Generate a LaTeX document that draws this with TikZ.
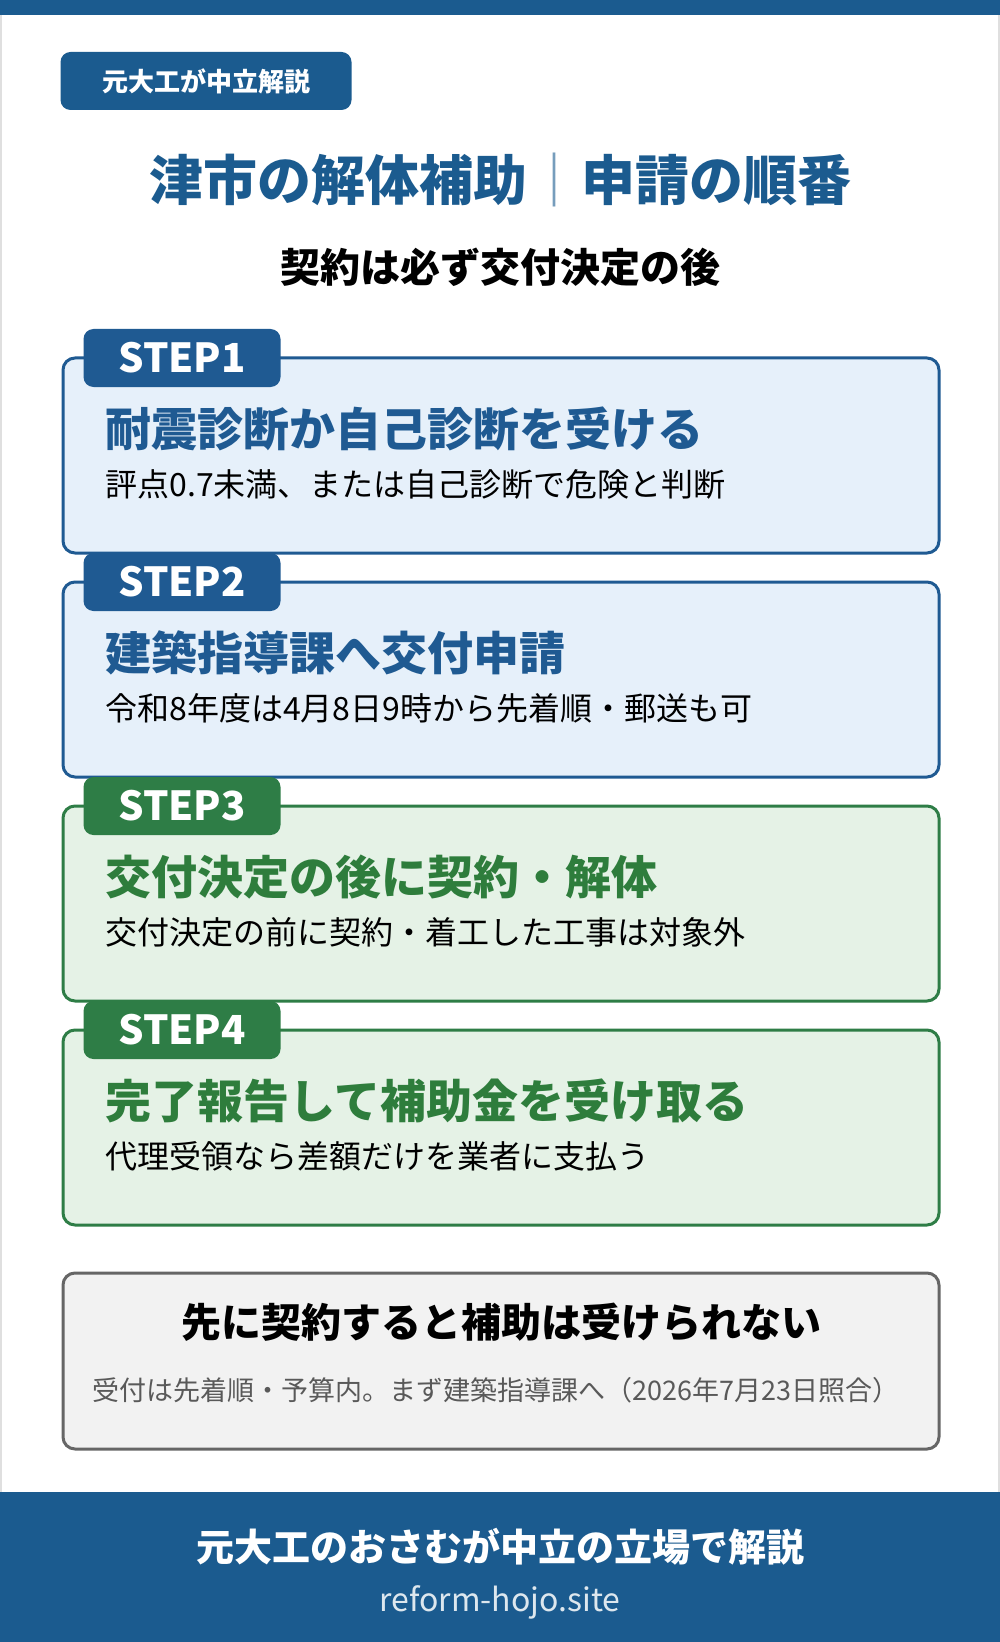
\documentclass[tikz,border=0pt]{standalone}
\usepackage{fontspec}
\setmainfont{Noto Sans CJK JP}
\usetikzlibrary{positioning}
\definecolor{navy}{HTML}{1B5B8F}
\definecolor{bluefill}{HTML}{E6F0FA}
\definecolor{blueline}{HTML}{1F5A92}
\definecolor{greenfill}{HTML}{E5F2E6}
\definecolor{greenline}{HTML}{2E7D46}
\definecolor{greentext}{HTML}{2E7D3C}
\tikzset{
  stepbox/.style={draw=#1line, fill=#1fill, line width=1.5pt, rounded corners=6pt},
  steptab/.style={fill=#1line, rounded corners=5pt, minimum width=98.5pt, minimum height=29pt, text=white, font=\bfseries\fontsize{20}{20}\selectfont, inner sep=0pt},
  stephead/.style={anchor=west, font=\bfseries\fontsize{23}{23}\selectfont, inner sep=0pt},
  stepnote/.style={anchor=west, font=\fontsize{16}{16}\selectfont, inner sep=0pt},
}
\begin{document}
\begin{tikzpicture}[x=0.5pt, y=-0.5pt]
\useasboundingbox (0,0) rectangle (1000,1642);
\fill[white] (0,0) rectangle (1000,1642);
\draw[gray!25, line width=1pt] (1,0) -- (1,1642) (999,0) -- (999,1642);
\fill[navy] (0,0) rectangle (1000,15);
% badge and titles
\node (badge) [fill=navy, rounded corners=5pt, minimum width=145.5pt, minimum height=29pt, text=white, font=\bfseries\fontsize{13}{13}\selectfont, inner sep=0pt] at (206,81) {元大工が中立解説};
\node (title) [text=navy, font=\bfseries\fontsize{27}{27}\selectfont] at (500,180) {津市の解体補助{\color{navy!60}｜}申請の順番};
\node (subtitle) [font=\bfseries\fontsize{20}{20}\selectfont] at (500,267) {契約は必ず交付決定の後};
% steps
\foreach \i/\col/\hcol/\head/\note in {
  1/blue/blueline/耐震診断か自己診断を受ける/評点0.7未満、または自己診断で危険と判断,
  2/blue/blueline/建築指導課へ交付申請/令和8年度は4月8日9時から先着順・郵送も可,
  3/green/greentext/交付決定の後に契約・解体/交付決定の前に契約・着工した工事は対象外,
  4/green/greentext/完了報告して補助金を受け取る/代理受領なら差額だけを業者に支払う}{
  \pgfmathsetmacro{\top}{358+(\i-1)*224}
  \draw[stepbox=\col] (63,\top) rectangle (939,\top+195);
  \node (tab\i) [steptab=\col] at (182,\top) {STEP\i};
  \node (head\i) [stephead, text=\hcol] at (105,\top+71) {\head};
  \node (note\i) [stepnote] at (105,\top+126) {\note};
}
% warning box
\draw[draw=black!60, fill=black!5, line width=1.5pt, rounded corners=6pt] (63,1273) rectangle (939,1449);
\node (warn) [font=\bfseries\fontsize{20}{20}\selectfont] at (501,1322) {先に契約すると補助は受けられない};
\node (warnnote) [text=black!65, font=\fontsize{13.5}{13.5}\selectfont] at (496,1390) {受付は先着順・予算内。まず建築指導課へ（2026年7月23日照合）};
% footer
\fill[navy] (0,1492) rectangle (1000,1642);
\node (footer) [text=white, font=\bfseries\fontsize{19}{19}\selectfont] at (500,1547) {元大工のおさむが中立の立場で解説};
\node (url) [text=white!85!navy, font=\fontsize{16}{16}\selectfont] at (500,1602) {reform-hojo.site};
\end{tikzpicture}
\end{document}
